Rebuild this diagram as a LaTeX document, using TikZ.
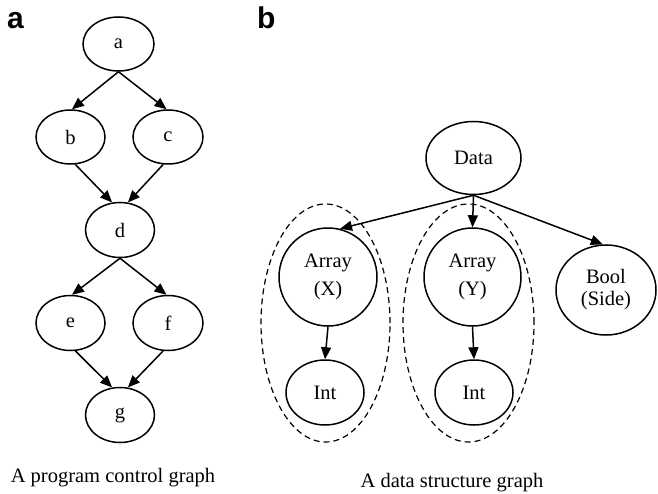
\documentclass[tikz,border=0pt]{standalone}
\usepackage{fontspec}
\setmainfont{Liberation Serif}
\newfontfamily\panelfont{Liberation Sans}
\usetikzlibrary{shapes.geometric,arrows.meta}
\begin{document}
\begin{tikzpicture}[x=1pt,y=1pt,
  every node/.style={font=\fontsize{20.5}{22}\selectfont},
  vtx/.style={draw, ellipse, line width=1.5pt, inner sep=0pt, align=center},
  grp/.style={draw, ellipse, dashed, dash pattern=on 6pt off 4pt, line width=1.2pt, inner sep=0pt},
  edge/.style={line width=1.5pt, -{Triangle[length=12pt,width=10pt]}},
  panel/.style={font=\panelfont\bfseries\fontsize{30}{32}\selectfont, anchor=base west, inner sep=0pt},
  captext/.style={font=\fontsize{20.5}{22}\selectfont, anchor=base}]
\useasboundingbox (0,0) rectangle (658,-494);
% panel labels
\node[panel] (la) at (7,-29) {a};
\node[panel] (lb) at (257,-29) {b};
% panel a
\node[vtx, minimum width=71, minimum height=54] (a) at (118.5,-44) {a};
\node[vtx, minimum width=69, minimum height=54] (b) at (70.5,-137) {b};
\node[vtx, minimum width=70, minimum height=54] (c) at (168,-137) {c};
\node[vtx, minimum width=69, minimum height=55] (d) at (120,-230) {d};
\node[vtx, minimum width=69, minimum height=55] (e) at (70.5,-323) {e};
\node[vtx, minimum width=70, minimum height=55] (f) at (168,-323) {f};
\node[vtx, minimum width=69, minimum height=55] (g) at (120,-415) {g};
\draw[edge] (a.south) -- (b.87);
\draw[edge] (a.south) -- (c.93);
\draw[edge] (b.-80) -- (d.106);
\draw[edge] (c.-100) -- (d.74);
\draw[edge] (d.south) -- (e.87);
\draw[edge] (d.south) -- (f.93);
\draw[edge] (e.-80) -- (g.106);
\draw[edge] (f.-100) -- (g.74);
\node[captext] (capa) at (113,-482) {A program control graph};
% panel b
\node[grp, minimum width=129, minimum height=238] (gx) at (325.5,-323) {};
\node[grp, minimum width=131, minimum height=238] (gy) at (468.5,-323) {};
\node[vtx, minimum width=95, minimum height=73] (data) at (473.5,-158) {Data};
\node[vtx, minimum width=98, minimum height=98] (ax) at (328,-277) {Array\\[6pt](X)};
\node[vtx, minimum width=97, minimum height=98] (ay) at (472.5,-277) {Array\\[6pt](Y)};
\node[vtx, minimum width=100, minimum height=90] (bool) at (606,-290) {Bool\\(Side)};
\node[vtx, minimum width=78, minimum height=65] (ix) at (325,-392.5) {Int};
\node[vtx, minimum width=78, minimum height=65] (iy) at (474,-392.5) {Int};
\draw[edge] (data.south) -- (ax.76);
\draw[edge] (data.south) -- (ay.north);
\draw[edge] (data.south) -- (bool.94);
\draw[edge] (ax.south) -- (ix.north);
\draw[edge] (ay.south) -- (iy.north);
\node[captext] (capb) at (452,-487) {A data structure graph};
\end{tikzpicture}
\end{document}
